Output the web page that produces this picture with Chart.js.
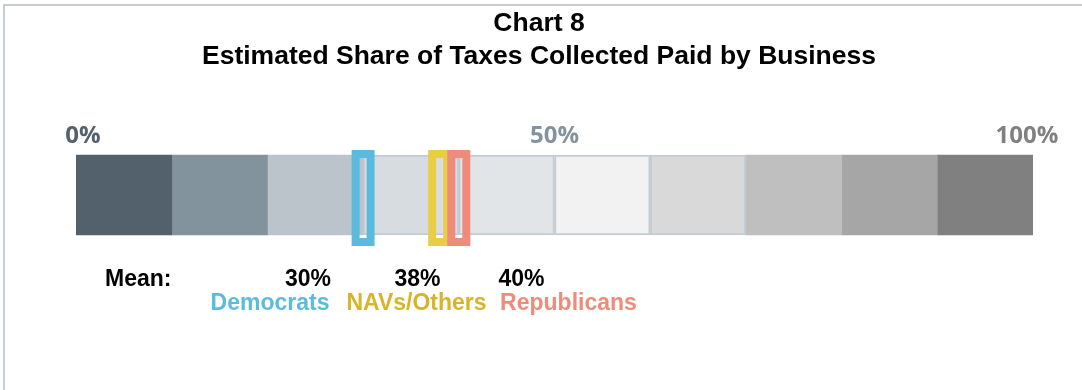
<!DOCTYPE html>
<html>
<head>
<meta charset="utf-8">
<script src="https://cdn.jsdelivr.net/npm/chart.js@4.4.1/dist/chart.umd.min.js"></script>
<style>
  html, body { margin: 0; padding: 0; background: #fff; }
  #wrap { position: relative; width: 1082px; height: 390px; overflow: hidden; }
  #frame { position: absolute; left: 3px; top: 4px; right: -2px; bottom: -2px;
           border-top: 2px solid #c6cdd5; border-left: 2px solid #c6cdd5; pointer-events: none; }
  canvas { position: absolute; left: 0; top: 0; }
</style>
</head>
<body>
<div id="wrap">
  <canvas id="chart" width="1082" height="390"></canvas>
  <div id="frame"></div>
</div>
<script>
// ---- data ----
const titleLines = ['Chart 8', 'Estimated Share of Taxes Collected Paid by Business'];
const scaleBands = [10, 10, 10, 10, 10, 10, 10, 10, 10, 10];   // ten equal steps, 0% to 100%
const axisTicks = [0, 50, 100];
const parties = ['Democrats', 'NAVs/Others', 'Republicans'];
const partyMeans = [30, 38, 40];
const meanLabel = 'Mean:';

// ---- styles ----
const bandColors = ['#52616b', '#83939e', '#bac4ca', '#d6dce0', '#e1e5e8',
                    '#f2f2f2', '#d9d9d9', '#bfbfbf', '#a6a6a6', '#808080'];
const bandBorders = [0, 0, 0, 2, 2, 2, 2, 0, 0, 0];
const tickColors = ['#52616b', '#83939e', '#808080'];
const markerColors = ['#5bbbdf', '#e8cd45', '#ef8b7a'];
const partyTextColors = ['#5bbbdf', '#d9b42b', '#ef8b7a'];

// title placement
const titleBlock = { centerX: 539, baselines: [31, 64],
  font: 'bold 26.5px "Liberation Sans", Arial, sans-serif' };

// scale labels above the bar (end labels sit slightly inward)
const tickRow = { baseline: 143, nudge: [7, 0, -6],
  font: 'bold 24px "Open Sans", sans-serif' };

// text placement of the "Mean:" row
const meanRow = {
  labelX: 105, valueY: 286, nameY: 310,
  valueCenters: [308, 417.5, 521.5],
  nameCenters: [270, 416.5, 568.5],
  font: 'bold 23px "Liberation Sans", Arial, sans-serif'
};

const datasets = scaleBands.map((v, i) => ({
  data: [v],
  backgroundColor: bandColors[i],
  borderColor: '#c3ccd2',
  borderWidth: bandBorders[i],
  borderSkipped: false,
  barThickness: 80,
  stack: 'scale'
}));

const scaleAnnotations = {
  id: 'scaleAnnotations',
  // hollow markers at each party's mean, placed through the x scale
  afterDatasetsDraw(chart) {
    const { ctx, scales: { x, y } } = chart;
    const cy = y.getPixelForValue(0) + 3;
    const w = 23, h = 96, lw = 8;
    partyMeans.forEach((v, i) => {
      const cx = x.getPixelForValue(v);
      ctx.save();
      ctx.strokeStyle = markerColors[i];
      ctx.lineWidth = lw;
      ctx.strokeRect(cx - w / 2 + lw / 2, cy - h / 2 + lw / 2, w - lw, h - lw);
      ctx.restore();
    });
  },
  afterDraw(chart) {
    const { ctx, scales: { x } } = chart;
    ctx.save();
    ctx.textBaseline = 'alphabetic';
    ctx.textAlign = 'center';

    // title
    ctx.fillStyle = '#000';
    ctx.font = titleBlock.font;
    titleLines.forEach((t, i) => ctx.fillText(t, titleBlock.centerX, titleBlock.baselines[i]));

    // 0% / 50% / 100% labels from the x scale
    ctx.font = tickRow.font;
    axisTicks.forEach((v, i) => {
      ctx.fillStyle = tickColors[i];
      ctx.fillText(v + '%', x.getPixelForValue(v) + tickRow.nudge[i], tickRow.baseline);
    });

    // mean row
    ctx.font = meanRow.font;
    ctx.fillStyle = '#000';
    ctx.textAlign = 'left';
    ctx.fillText(meanLabel, meanRow.labelX, meanRow.valueY);
    ctx.textAlign = 'center';
    partyMeans.forEach((v, i) => {
      ctx.fillStyle = '#000';
      ctx.fillText(v + '%', meanRow.valueCenters[i], meanRow.valueY);
      ctx.fillStyle = partyTextColors[i];
      ctx.fillText(parties[i], meanRow.nameCenters[i], meanRow.nameY);
    });
    ctx.restore();
  }
};

new Chart(document.getElementById('chart'), {
  type: 'bar',
  data: { labels: [''], datasets },
  options: {
    indexAxis: 'y',
    responsive: false,
    animation: false,
    layout: { padding: { top: 150, left: 76, right: 49, bottom: 150 } },
    plugins: {
      legend: { display: false },
      tooltip: { enabled: false },
      title: { display: false }
    },
    scales: {
      x: { display: false, stacked: true, min: 0, max: 100 },
      y: { display: false, stacked: true }
    }
  },
  plugins: [scaleAnnotations]
});
</script>
</body>
</html>
